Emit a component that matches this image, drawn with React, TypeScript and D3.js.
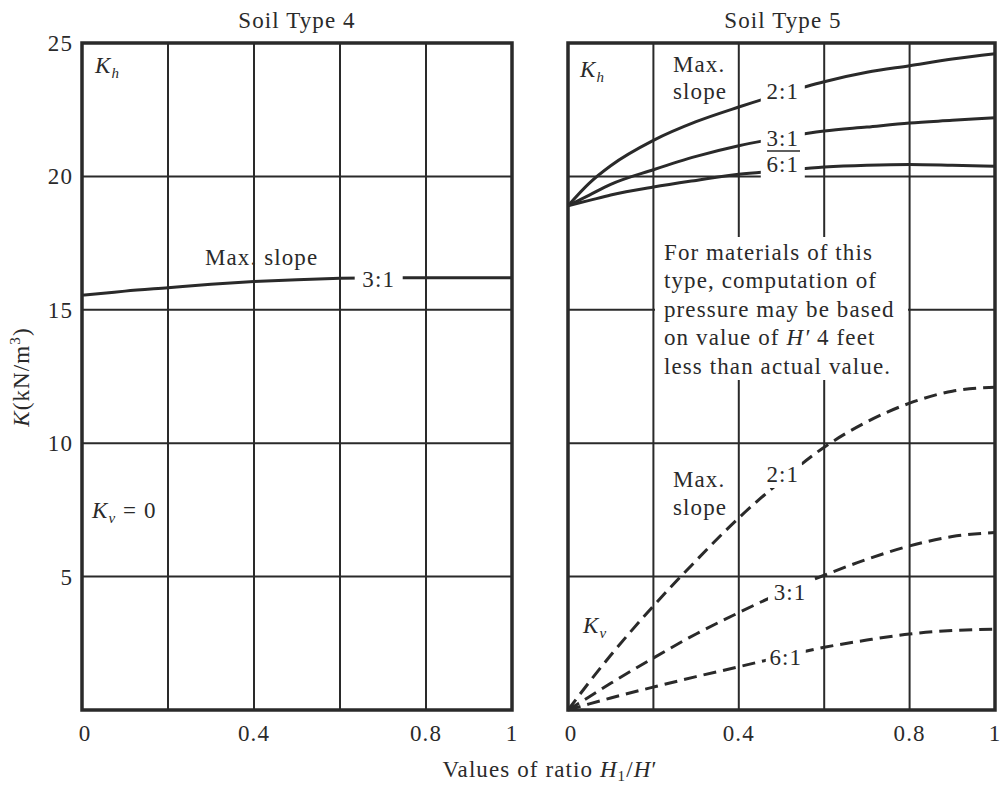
import React from 'react';
import * as d3 from 'd3';

// ratio H1/H' sampled along the curves
const ratio = [0, 0.05, 0.1, 0.2, 0.3, 0.4, 0.5, 0.6, 0.7, 0.8, 0.9, 1.0];

// Soil type 4, Kh, max slope 3:1
const type4Kh31 = [15.55, 15.62, 15.7, 15.83, 15.96, 16.06, 16.13, 16.18, 16.2, 16.2, 16.2, 16.2];

// Soil type 5, Kh (solid)
const type5Kh21 = [18.9, 19.75, 20.4, 21.35, 22.05, 22.6, 23.1, 23.55, 23.9, 24.15, 24.4, 24.6];
const type5Kh31 = [18.9, 19.3, 19.7, 20.25, 20.75, 21.15, 21.45, 21.7, 21.85, 22.0, 22.1, 22.2];
const type5Kh61 = [18.9, 19.1, 19.3, 19.6, 19.85, 20.08, 20.22, 20.35, 20.42, 20.45, 20.42, 20.38];

// Soil type 5, Kv (dashed)
const type5Kv21 = [0, 1.05, 2.05, 3.9, 5.6, 7.2, 8.6, 9.85, 10.8, 11.5, 11.95, 12.1];
const type5Kv31 = [0, 0.5, 1.0, 1.95, 2.85, 3.65, 4.4, 5.05, 5.65, 6.15, 6.5, 6.65];
const type5Kv61 = [0, 0.23, 0.45, 0.86, 1.25, 1.62, 2.0, 2.35, 2.62, 2.85, 2.98, 3.03];

const xTickValues = [0, 0.2, 0.4, 0.6, 0.8, 1];
const xTickLabels = ['0', '', '0.4', '', '0.8', '1'];
const yTickValues = [0, 5, 10, 15, 20, 25];
const yTickLabels = ['', '5', '10', '15', '20', '25'];

const noteLines = [
  'For materials of this',
  'type, computation of',
  'pressure may be based',
  null, // line with italic H'
  'less than actual value.',
];

const W = 1001;
const H = 785;
const FONT = '"Liberation Serif", "Times New Roman", serif';
const INK = '#2a2a2a';
const FS = 23;
const LS = 1.1;

const y = d3.scaleLinear().domain([0, 25]).range([710, 43]);
const xLeft = d3.scaleLinear().domain([0, 1]).range([82, 512]);
const xRight = d3.scaleLinear().domain([0, 1]).range([568, 995]);

const pts = (vals: number[]) => ratio.map((r, i) => [r, vals[i]] as [number, number]);

function Grid({ xs }: { xs: d3.ScaleLinear<number, number> }) {
  const [x0, x1] = xs.range();
  return (
    <g stroke={INK} fill="none">
      {xTickValues.slice(1, -1).map((t) => (
        <line key={'v' + t} x1={xs(t)} x2={xs(t)} y1={y(25)} y2={y(0)} strokeWidth={2} />
      ))}
      {yTickValues.slice(1, -1).map((t) => (
        <line key={'h' + t} x1={x0} x2={x1} y1={y(t)} y2={y(t)} strokeWidth={2} />
      ))}
      <rect x={x0} y={y(25)} width={x1 - x0} height={y(0) - y(25)} strokeWidth={3.5} />
    </g>
  );
}

function Curve({ xs, vals, dashed }: { xs: d3.ScaleLinear<number, number>; vals: number[]; dashed?: boolean }) {
  const line = d3
    .line<[number, number]>()
    .x((d) => xs(d[0]))
    .y((d) => y(d[1]))
    .curve(d3.curveMonotoneX);
  return (
    <path
      d={line(pts(vals)) || ''}
      fill="none"
      stroke={INK}
      strokeWidth={3}
      strokeDasharray={dashed ? '13 7' : undefined}
    />
  );
}

// label sitting on a curve, with a white gap behind it
function Tag({ cx, by, text, w = 44 }: { cx: number; by: number; text: string; w?: number }) {
  return (
    <g>
      <rect x={cx - w / 2} y={by - 20} width={w} height={26} fill="#fff" />
      <text x={cx} y={by} textAnchor="middle">{text}</text>
    </g>
  );
}

function KSub({ x, by, sub }: { x: number; by: number; sub: string }) {
  return (
    <text x={x} y={by} fontStyle="italic">
      K
      <tspan fontSize={15} dy={5}>{sub}</tspan>
    </text>
  );
}

export default function App() {
  return (
    <svg width={W} height={H} style={{ display: 'block', position: 'absolute', left: 0, top: 0, background: '#fff' }}>
      <rect width={W} height={H} fill="#fff" />
      <g fontFamily={FONT} fontSize={FS} fill={INK} letterSpacing={LS}>
        {/* titles */}
        <text x={297} y={28} textAnchor="middle">Soil Type 4</text>
        <text x={783} y={28} textAnchor="middle">Soil Type 5</text>

        {/* y tick labels */}
        {yTickValues.map((t, i) => (
          <text key={'yt' + t} x={73} y={y(t) + 8} textAnchor="end">{yTickLabels[i]}</text>
        ))}

        {/* x tick labels */}
        {[xLeft, xRight].map((xs, k) =>
          xTickValues.map((t, i) => (
            <text key={k + 'xt' + t} x={xs(t) + (t === 0 ? 3 : 0)} y={741} textAnchor="middle">{xTickLabels[i]}</text>
          ))
        )}

        {/* axis titles */}
        <text transform="translate(29,377) rotate(-90)" textAnchor="middle">
          <tspan fontStyle="italic">K</tspan>(kN/m
          <tspan fontSize={15} dy={-9}>3</tspan>
          <tspan dy={9}>)</tspan>
        </text>
        <text x={550} y={777} textAnchor="middle">
          Values of ratio <tspan fontStyle="italic">H</tspan>
          <tspan fontSize={15} dy={4}>1</tspan>
          <tspan dy={-4}>/</tspan>
          <tspan fontStyle="italic">H</tspan>′
        </text>

        {/* left panel: soil type 4 */}
        <Grid xs={xLeft} />
        <Curve xs={xLeft} vals={type4Kh31} />
        <KSub x={95} by={73} sub="h" />
        <text x={205} y={265}>Max. slope</text>
        <Tag cx={xLeft(0.69)} by={287} text="3:1" w={48} />
        <text x={92} y={518}>
          <tspan fontStyle="italic">K</tspan>
          <tspan fontSize={15} fontStyle="italic" dy={5}>v</tspan>
          <tspan dy={-5}> = 0</tspan>
        </text>

        {/* right panel: soil type 5 */}
        <Grid xs={xRight} />
        <Curve xs={xRight} vals={type5Kh21} />
        <Curve xs={xRight} vals={type5Kh31} />
        <Curve xs={xRight} vals={type5Kh61} />
        <Curve xs={xRight} vals={type5Kv21} dashed />
        <Curve xs={xRight} vals={type5Kv31} dashed />
        <Curve xs={xRight} vals={type5Kv61} dashed />

        <KSub x={580} by={77} sub="h" />
        <text x={673} y={72}>Max.</text>
        <text x={673} y={99}>slope</text>
        <Tag cx={xRight(0.503)} by={99} text="2:1" />
        <Tag cx={xRight(0.503)} by={146} text="3:1" />
        <line x1={767} x2={800} y1={151} y2={151} stroke={INK} strokeWidth={1.5} />
        <Tag cx={xRight(0.503)} by={172} text="6:1" />

        {/* note with white backing */}
        <rect x={655} y={237} width={253} height={143} fill="#fff" />
        {noteLines.map((l, i) => (
          <text key={'n' + i} x={664} y={260 + i * 28.4}>
            {l === null ? (
              <>
                on value of <tspan fontStyle="italic">H′</tspan> 4 feet
              </>
            ) : (
              l
            )}
          </text>
        ))}

        <text x={673} y={487}>Max.</text>
        <text x={673} y={515}>slope</text>
        <Tag cx={xRight(0.503)} by={482} text="2:1" w={38} />
        <Tag cx={xRight(0.52)} by={600} text="3:1" w={44} />
        <Tag cx={xRight(0.51)} by={665} text="6:1" w={40} />
        <KSub x={583} by={633} sub="v" />
      </g>
    </svg>
  );
}
